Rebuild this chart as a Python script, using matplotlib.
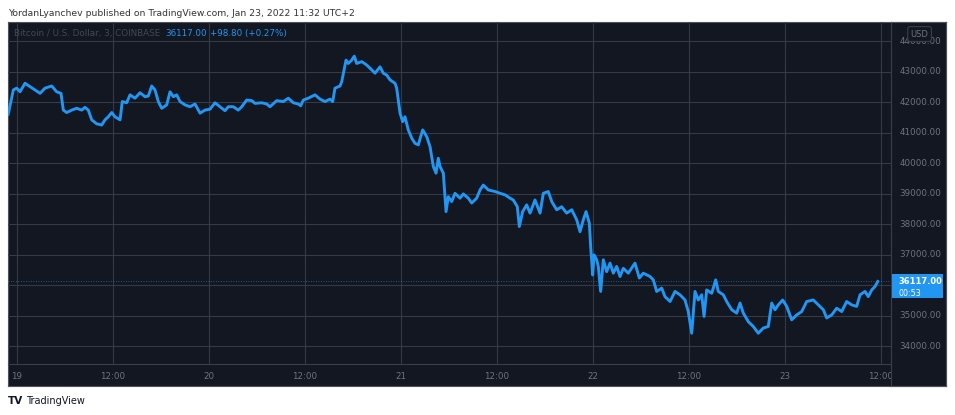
import numpy as np
import matplotlib
matplotlib.use("Agg")
import matplotlib.pyplot as plt
import matplotlib.transforms as mtransforms
from matplotlib.patches import Rectangle

# hours since Jan 19 00:00 (UTC+2) and BTC/USD price
hours = [-1.1, -0.46, -0.04, 0.38, 1.0, 1.63, 2.25, 2.88, 3.5, 4.34, 4.96, 5.5, 5.79, 6.21, 6.84,
         7.46, 8.09, 8.5, 8.91, 9.34, 9.96, 10.59, 11.0, 11.41, 11.84, 12.25, 12.88, 13.16, 13.71,
         14.13, 14.75, 15.38, 16.0, 16.41, 16.84, 17.25, 17.66, 18.09, 18.71, 19.13, 19.54, 19.96,
         20.38, 21.0, 21.63, 22.25, 22.88, 23.5, 24.13, 24.75, 25.38, 26.0, 26.41, 27.04, 27.66,
         28.09, 28.71, 29.34, 29.75, 30.59, 31.21, 31.63, 32.46, 33.29, 33.91, 34.54, 35.16, 35.46,
         35.79, 36.41, 37.25, 37.88, 38.5, 39.13, 39.46, 39.75, 40.38, 40.59, 40.88, 41.13, 41.41,
         41.84, 42.16, 42.46, 43.09, 43.71, 44.34, 44.75, 45.38, 45.79, 46.21, 46.63, 47.25, 47.46,
         47.66, 47.88, 48.21, 48.5, 48.91, 49.34, 49.75, 50.16, 50.71, 51.21, 51.63, 52.04, 52.38,
         52.66, 52.88, 53.29, 53.63, 53.91, 54.34, 54.75, 55.38, 55.79, 56.41, 56.84, 57.46, 57.88,
         58.29, 58.91, 59.75, 60.38, 61.0, 61.63, 62.04, 62.54, 62.79, 63.21, 63.71, 64.13, 64.75,
         65.38, 65.79, 66.41, 66.84, 67.46, 68.09, 68.71, 69.34, 69.96, 70.38, 70.79, 71.13, 71.54,
         71.71, 71.96, 72.13, 72.46, 72.66, 72.96, 73.29, 73.71, 74.13, 74.54, 74.96, 75.38, 75.79,
         76.41, 77.25, 77.79, 78.29, 79.13, 79.54, 79.96, 80.59, 81.0, 81.63, 82.25, 82.88, 83.5,
         83.91, 84.34, 84.75, 85.16, 85.59, 85.88, 86.21, 86.84, 87.34, 87.66, 88.29, 88.71, 89.34,
         89.96, 90.38, 90.79, 91.41, 92.04, 92.66, 93.29, 93.91, 94.34, 94.75, 95.16, 95.71, 96.21,
         96.84, 97.46, 98.09, 98.71, 99.54, 100.16, 100.79, 101.21, 101.84, 102.46, 103.09, 103.71,
         104.34, 104.96, 105.38, 106.0, 106.41, 106.84, 107.25, 107.59]
prices = [41600, 42400, 42460, 42340, 42620, 42510, 42400, 42290, 42460, 42530, 42340, 42290, 41740,
          41660, 41740, 41800, 41740, 41830, 41740, 41420, 41290, 41250, 41420, 41520, 41660, 41520,
          41420, 42020, 41980, 42240, 42130, 42310, 42180, 42200, 42530, 42400, 42020, 41800, 41910,
          42340, 42180, 42240, 42020, 41910, 41850, 41940, 41640, 41740, 41770, 41980, 41850, 41720,
          41850, 41850, 41740, 41850, 42070, 42050, 41960, 41980, 41940, 41850, 42050, 42020, 42130,
          41980, 41940, 41880, 42070, 42130, 42240, 42100, 42020, 42100, 42020, 42460, 42530, 42670,
          43060, 43380, 43270, 43380, 43510, 43270, 43330, 43220, 43060, 42950, 43160, 42950, 42890,
          42730, 42620, 42460, 42070, 41640, 41360, 41520, 41090, 40820, 40650, 40600, 41090, 40870,
          40540, 39890, 39670, 40160, 39890, 39670, 38410, 38900, 38740, 39010, 38850, 38990, 38850,
          38690, 38850, 39120, 39280, 39120, 39070, 39010, 38960, 38850, 38790, 38570, 37920, 38410,
          38630, 38360, 38790, 38360, 39010, 39070, 38740, 38470, 38570, 38360, 38470, 38140, 37750,
          38140, 38410, 38030, 37260, 36330, 36990, 36830, 36610, 35790, 36830, 36440, 36720, 36390,
          36610, 36280, 36550, 36390, 36720, 36230, 36390, 36280, 36170, 35790, 35900, 35620, 35460,
          35790, 35680, 35510, 35130, 34420, 35790, 35510, 35680, 34970, 35840, 35730, 36170, 35790,
          35680, 35460, 35190, 35080, 35410, 35080, 34800, 34640, 34420, 34590, 34640, 35410, 35190,
          35350, 35510, 35300, 34860, 35020, 35130, 35460, 35510, 35350, 35190, 34920, 35020, 35240,
          35130, 35460, 35350, 35300, 35680, 35790, 35620, 35840, 35950, 36117]

x_ticks = [0, 12, 24, 36, 48, 60, 72, 84, 96, 108]
x_labels = ["19", "12:00", "20", "12:00", "21", "12:00", "22", "12:00", "23", "12:00"]
y_ticks = [34000, 35000, 36000, 37000, 38000, 39000, 40000, 41000, 42000, 43000, 44000]

last_price = 36117.00
change = 98.80
change_pct = 0.27
countdown = "00:53"

BG = "#131722"
GRID = "#363a45"
TXT = "#6f737d"
BLUE = "#2196f3"

W, H = 955, 415


def rect(x0, y0, x1, y1):
    # pixel box (y from the top) -> figure fraction
    return [x0 / W, 1 - y1 / H, (x1 - x0) / W, (y1 - y0) / H]


fig = plt.figure(figsize=(W / 100, H / 100), dpi=100)
fig.patch.set_facecolor("white")

# whole dark panel
panel = fig.add_axes(rect(8, 22, 946, 386))
panel.set_facecolor(BG)
panel.set_xticks([])
panel.set_yticks([])
for s in panel.spines.values():
    s.set_color("#50535e")
    s.set_linewidth(0.8)

ax = fig.add_axes(rect(8, 22, 891, 364))
ax.set_facecolor("none")
ax.plot(hours, prices, color=BLUE, lw=2.1, solid_joinstyle="round", zorder=3)
ax.axhline(last_price, color=BLUE, lw=0.6, ls=(0, (1, 2)), alpha=0.7, zorder=2)
ax.set_xlim(-1.125, 109.25)
ax.set_ylim(33410, 44630)
ax.set_xticks(x_ticks, x_labels)
ax.set_yticks(y_ticks)
ax.grid(True, color=GRID, lw=0.8)
ax.tick_params(axis="x", length=0, pad=5.5, labelsize=6.3, labelcolor=TXT)
ax.tick_params(axis="y", length=0, labelleft=False)
for name, s in ax.spines.items():
    s.set_visible(name == "bottom")
ax.spines["bottom"].set_color("#3a3e49")
ax.spines["bottom"].set_linewidth(0.8)

# legend line inside the chart
ax.text(0.007, 0.965, "Bitcoin / U.S. Dollar, 3, COINBASE", transform=ax.transAxes,
        fontsize=6.3, color="#444853", va="center", ha="left")
ax.text(0.178, 0.965, f"{last_price:.2f}", transform=ax.transAxes,
        fontsize=6.3, color=BLUE, va="center", ha="left")
ax.text(0.229, 0.965, f"+{change:.2f} (+{change_pct:.2f}%)", transform=ax.transAxes,
        fontsize=6.3, color=BLUE, va="center", ha="left")

# price scale column
ax2 = fig.add_axes(rect(891, 22, 946, 386))
ax2.set_facecolor(BG)
ax2.set_xlim(0, 1)
ax2.set_ylim(33410 - 22 / 30.5 * 1000, 44630)
ax2.set_xticks([])
ax2.set_yticks([])
for name, s in ax2.spines.items():
    s.set_color("#50535e")
    s.set_linewidth(0.8)
ax2.spines["left"].set_color("#3a3e49")
blend = mtransforms.blended_transform_factory(ax2.transAxes, ax2.transData)
for v in y_ticks:
    # labels under the last-price box are hidden, as on the original
    if -600 < v - last_price < 300:
        continue
    ax2.text(0.15, v, f"{v:.2f}", transform=blend, fontsize=6.3, color=TXT,
             va="center", ha="left")

# USD badge
ax2.text(0.52, 0.967, "USD", transform=ax2.transAxes, fontsize=6.0, color=TXT,
         ha="center", va="center", zorder=5,
         bbox=dict(boxstyle="round,pad=0.35,rounding_size=0.3", fc=BG, ec="#3a3e49", lw=0.8))

# last price box
ax2.add_patch(Rectangle((0.02, last_price - 540), 0.93, 780, transform=blend,
                        fc=BLUE, ec="none", zorder=4))
ax2.text(0.14, last_price, f"{last_price:.2f}", transform=blend, fontsize=6.0,
         color="white", fontweight="semibold", va="center", ha="left", zorder=5)
ax2.text(0.14, last_price - 400, countdown, transform=blend, fontsize=5.8,
         color="white", va="center", ha="left", zorder=5)

# header and footer
fig.text(8 / W, 1 - 13 / H, "YordanLyanchev published on TradingView.com, Jan 23, 2022 11:32 UTC+2",
         fontsize=6.7, color="#333333", va="center", ha="left")
fig.text(8 / W, 1 - 401 / H, "TV", fontsize=7.5, color="#131722", fontweight="heavy",
         va="center", ha="left")
fig.text(26 / W, 1 - 401 / H, "TradingView", fontsize=7.0, color="#131722",
         va="center", ha="left")

fig.savefig("out.png", dpi=100, facecolor="white")
